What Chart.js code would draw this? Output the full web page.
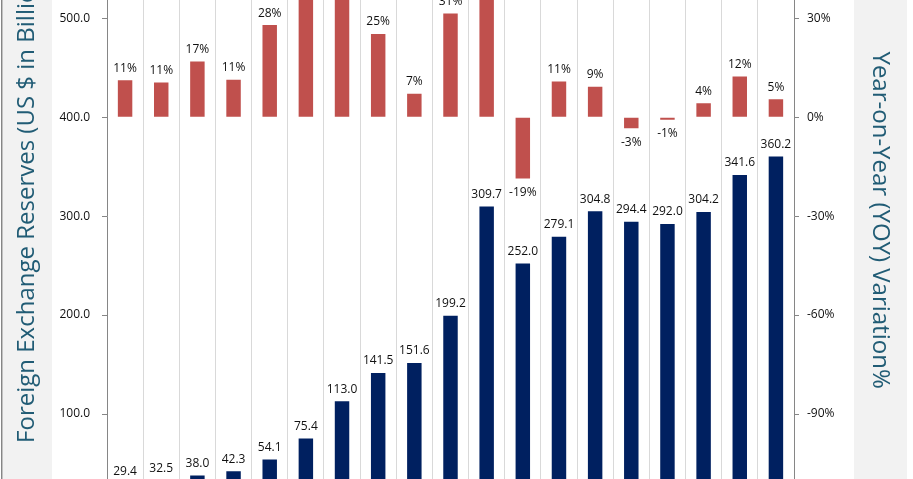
<!DOCTYPE html>
<html>
<head>
<meta charset="utf-8">
<script src="https://cdn.jsdelivr.net/npm/chart.js@4"></script>
<style>
    html, body { margin: 0; padding: 0; background: #fff; }
    #wrap { position: relative; width: 913px; height: 479px; overflow: hidden; }
    #box { position: absolute; left: 0; top: -100px; width: 913px; height: 660px; }
</style>
</head>
<body>
<div id="wrap"><div id="box"><canvas id="fxChart"></canvas></div></div>
<script>
// Datos
const years = ['FY98', 'FY99', 'FY00', 'FY01', 'FY02', 'FY03', 'FY04', 'FY05', 'FY06', 'FY07',
               'FY08', 'FY09', 'FY10', 'FY11', 'FY12', 'FY13', 'FY14', 'FY15', 'FY16'];
const reserves = [29.4, 32.5, 38.0, 42.3, 54.1, 75.4, 113.0, 141.5, 151.6, 199.2,
                  309.7, 252.0, 279.1, 304.8, 294.4, 292.0, 304.2, 341.6, 360.2];
const yoyPct = [11.2, 10.5, 16.9, 11.3, 27.9, 39.4, 49.9, 25.2, 7.1, 31.4,
                55.5, -18.6, 10.8, 9.2, -3.4, -0.8, 4.2, 12.3, 5.4];

const leftTitle = 'Foreign Exchange Reserves (US $ in Billions)';
const rightTitle = 'Year-on-Year (YOY) Variation%';

const TITLE_COLOR = '#215C75';
const AXIS_COLOR = '#868686';

// Fondo gris de los títulos y marco
const bandsPlugin = {
    id: 'bands',
    beforeDraw(chart) {
        const ctx = chart.ctx;
        ctx.save();
        ctx.fillStyle = '#F2F2F2';
        ctx.fillRect(3, 0, 49, chart.height);
        ctx.fillRect(854, 0, 53, chart.height);
        ctx.fillStyle = AXIS_COLOR;
        ctx.fillRect(1, 0, 1.5, chart.height);
        ctx.restore();
    },
    afterDraw(chart) {
        const ctx = chart.ctx;
        const area = chart.chartArea;
        const cy = (area.top + area.bottom) / 2;
        const drawTitle = (text, x, y, angle) => {
            ctx.save();
            ctx.fillStyle = TITLE_COLOR;
            ctx.font = '24px "Open Sans"';
            ctx.textAlign = 'center';
            ctx.textBaseline = 'middle';
            ctx.translate(x, y);
            ctx.rotate(angle);
            ctx.fillText(text, 0, 0);
            ctx.restore();
        };
        drawTitle(leftTitle, 27, cy - 17, -Math.PI / 2);
        drawTitle(rightTitle, 880, cy + 4, Math.PI / 2);
    }
};

// Etiquetas de valores sobre las barras
const valueLabels = {
    id: 'valueLabels',
    afterDatasetsDraw(chart) {
        const ctx = chart.ctx;
        ctx.save();
        ctx.font = '12px "Open Sans"';
        ctx.fillStyle = '#111';
        ctx.textAlign = 'center';
        ctx.textBaseline = 'middle';
        chart.data.datasets.forEach((ds, i) => {
            const meta = chart.getDatasetMeta(i);
            meta.data.forEach((bar, j) => {
                const v = ds.data[j];
                const txt = ds.fmt(v);
                const y = v >= 0 ? bar.y - 12 : bar.y + 14;
                ctx.fillText(txt, bar.x, y);
            });
        });
        ctx.restore();
    }
};

new Chart(document.getElementById('fxChart'), {
    type: 'bar',
    data: {
        labels: years,
        datasets: [
            {
                label: 'YOY',
                data: yoyPct,
                yAxisID: 'y1',
                backgroundColor: '#C0504D',
                fmt: v => v.toFixed(0) + '%',
                order: 2
            },
            {
                label: 'Reserves',
                data: reserves,
                yAxisID: 'y',
                backgroundColor: '#002060',
                fmt: v => v.toFixed(1),
                order: 1
            }
        ]
    },
    options: {
        responsive: true,
        maintainAspectRatio: false,
        animation: false,
        grouped: false,
        categoryPercentage: 0.4,
        barPercentage: 1,
        layout: { padding: { left: 0, right: 0, top: 19, bottom: 47 } },
        plugins: { legend: { display: false }, tooltip: { enabled: false } },
        scales: {
            x: {
                ticks: { display: false },
                grid: { color: '#D9D9D9', drawTicks: false, offset: true },
                border: { display: false }
            },
            y: {
                position: 'left',
                min: 0, max: 600,
                ticks: { stepSize: 100, padding: 12, color: '#111', font: { family: 'Open Sans', size: 12 },
                         callback: v => v.toFixed(1) },
                grid: { drawOnChartArea: false, tickLength: 5, color: AXIS_COLOR },
                border: { color: AXIS_COLOR, width: 1 },
                afterFit(s) { s.width = 107; }
            },
            y1: {
                position: 'right',
                min: -120, max: 60,
                ticks: { stepSize: 30, padding: 8, color: '#111', font: { family: 'Open Sans', size: 12 },
                         callback: v => v + '%' },
                grid: { drawOnChartArea: false, tickLength: 5, color: AXIS_COLOR },
                border: { color: AXIS_COLOR, width: 1 },
                afterFit(s) { s.width = 119; }
            }
        }
    },
    plugins: [bandsPlugin, valueLabels]
});
</script>
</body>
</html>
